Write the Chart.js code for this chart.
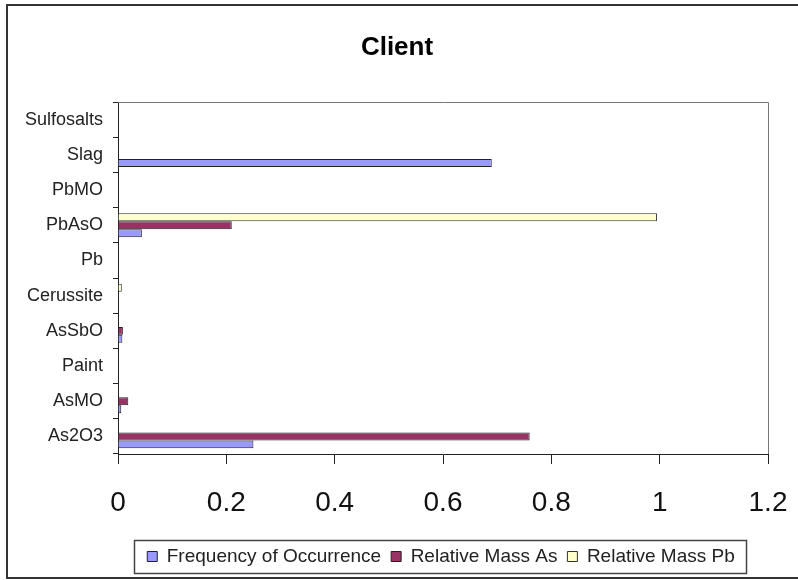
<!DOCTYPE html>
<html><head><meta charset="utf-8">
<script src="https://cdn.jsdelivr.net/npm/chart.js@4"></script>
<style>html,body{margin:0;padding:0;background:#fff;}#wrap{width:798px;height:580px;position:relative}</style>
</head><body><div id="wrap"><canvas id="c" width="798" height="580"></canvas></div>
<script>
const categories = ['Sulfosalts','Slag','PbMO','PbAsO','Pb','Cerussite','AsSbO','Paint','AsMO','As2O3'];
const frequency = [0, 0.69, 0, 0.044, 0, 0, 0.008, 0, 0.006, 0.25];
const massAs    = [0, 0, 0, 0.21, 0, 0, 0.009, 0, 0.019, 0.76];
const massPb    = [0, 0, 0, 0.995, 0, 0.007, 0, 0, 0, 0];
const xTicks = [0, 0.2, 0.4, 0.6, 0.8, 1, 1.2];
const seriesNames = ['Frequency of Occurrence', 'Relative Mass As', 'Relative Mass Pb'];
const chartTitle = 'Client';

const FONT = "'Liberation Sans', Arial, sans-serif";
Chart.defaults.font.family = FONT;

const frames = {
  id: 'frames',
  afterLayout(chart) {
    const lg = chart.legend;
    const shift = 441 - (lg.left + lg.right) / 2;
    lg.left += shift; lg.right += shift;
    const t = chart.titleBlock;
    const ts = 397 - (t.left + t.right) / 2;
    t.left += ts; t.right += ts;
  },
  afterDraw(chart) {
    const ctx = chart.ctx, a = chart.chartArea;
    ctx.save();
    // plot area border (top & right)
    ctx.strokeStyle = '#777'; ctx.lineWidth = 1;
    ctx.beginPath();
    ctx.moveTo(a.left, Math.round(a.top) + 0.5);
    ctx.lineTo(Math.round(a.right) + 0.5, Math.round(a.top) + 0.5);
    ctx.lineTo(Math.round(a.right) + 0.5, a.bottom);
    ctx.stroke();
    // legend frame
    const lg = chart.legend;
    const w = lg.lineWidths[0];
    const cx = (lg.left + lg.right) / 2;
    const x0 = Math.round(cx - w / 2 - 8) + 0.5;
    const x1 = Math.round(cx + w / 2 + 6) + 0.5;
    ctx.strokeStyle = '#444'; ctx.lineWidth = 1.5;
    ctx.strokeRect(x0, 540.5, x1 - x0, 33);
    // outer chart border
    ctx.strokeStyle = '#333'; ctx.lineWidth = 2;
    ctx.strokeRect(7, 5, 820, 573);
    ctx.restore();
  }
};

new Chart(document.getElementById('c'), {
  type: 'bar',
  data: {
    labels: categories,
    datasets: [
      { label: seriesNames[0], data: frequency, backgroundColor: '#9999FF', borderColor: '#222', borderWidth: 1, order: 2 },
      { label: seriesNames[1], data: massAs, backgroundColor: '#993366', borderColor: '#222', borderWidth: 1, order: 1 },
      { label: seriesNames[2], data: massPb, backgroundColor: '#FFFFCC', borderColor: '#333', borderWidth: 1, order: 0 }
    ]
  },
  options: {
    indexAxis: 'y',
    responsive: false,
    animation: false,
    devicePixelRatio: 1,
    categoryPercentage: 0.68,
    barPercentage: 1.0,
    layout: { padding: { left: 0, right: 30, top: 0, bottom: 4 } },
    scales: {
      x: {
        type: 'linear', min: 0, max: 1.2,
        afterBuildTicks: s => { s.ticks = xTicks.map(v => ({ value: v })); },
        afterFit: s => { s.height = 83; s.paddingLeft = 0; s.paddingRight = 0; },
        ticks: { font: { size: 28 }, color: '#111', padding: 22, callback: v => String(v), maxRotation: 0, autoSkip: false },
        grid: { drawOnChartArea: false, drawTicks: true, tickLength: 10, color: '#222' },
        border: { color: '#222', width: 1 }
      },
      y: {
        type: 'category', offset: true,
        afterFit: s => { s.width = 118; },
        ticks: { font: { size: 18 }, color: '#222', padding: 10, autoSkip: false },
        grid: { offset: true, drawOnChartArea: false, drawTicks: true, tickLength: 5, color: '#222' },
        border: { color: '#222', width: 1 }
      }
    },
    plugins: {
      title: { display: true, text: chartTitle, color: '#000', font: { size: 26, weight: 'bold' }, padding: { top: 32, bottom: 39 } },
      legend: {
        position: 'bottom',
        labels: { boxWidth: 10, boxHeight: 10, font: { size: 19 }, color: '#222', padding: 10,
                  sort: (a, b) => a.datasetIndex - b.datasetIndex }
      },
      tooltip: { enabled: false }
    }
  },
  plugins: [frames]
});
</script>
</body></html>
